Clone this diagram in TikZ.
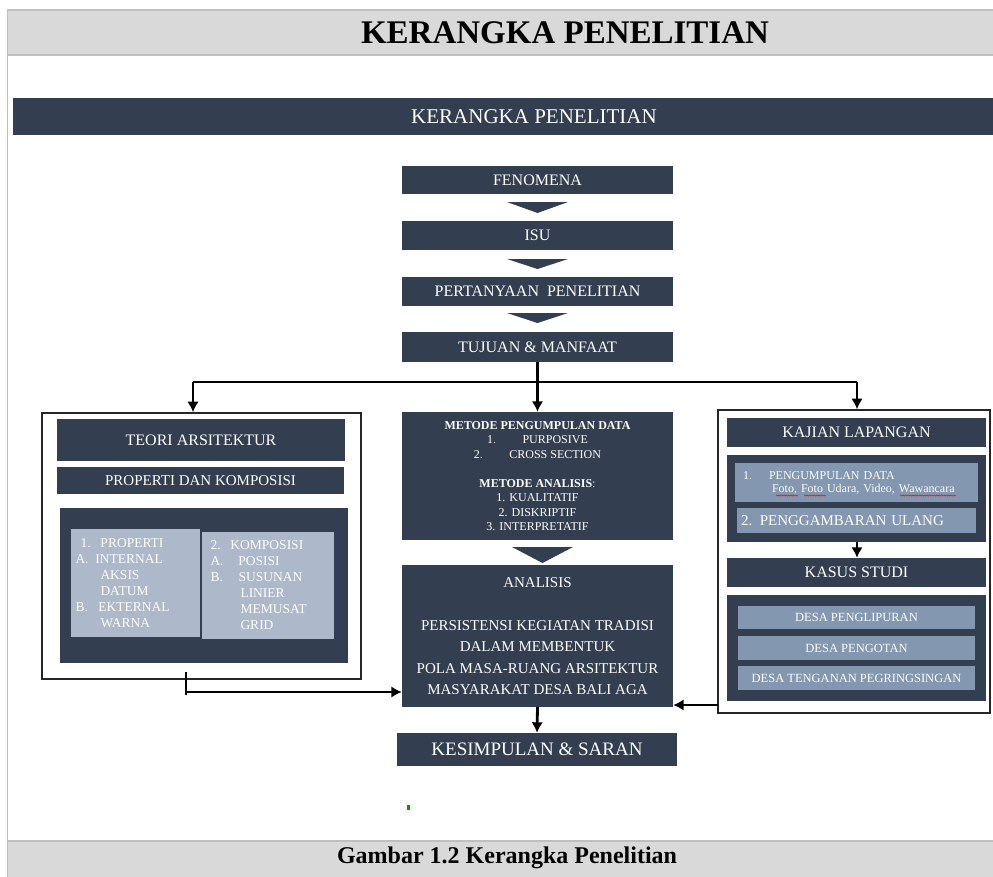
\documentclass[tikz,border=0pt]{standalone}
\usepackage{fontspec}
\setmainfont{Liberation Serif}
\usetikzlibrary{arrows.meta, decorations.pathmorphing}
\definecolor{navy}{HTML}{333F50}
\definecolor{pale}{HTML}{ADB9CA}
\definecolor{steel}{HTML}{8497B0}
\definecolor{bandgray}{HTML}{D9D9D9}
\definecolor{bandline}{HTML}{BFBFBF}
\def\fsz#1#2{\fontsize{#1}{#2}\selectfont}
\tikzset{dark/.style={fill=navy, text=white, inner sep=0pt, align=center},
  pbox/.style={fill=pale, text=white, inner sep=0pt, align=left},
  sbox/.style={fill=steel, text=white, inner sep=0pt},
  frame/.style={draw=black!85, line width=1.6pt, inner sep=0pt},
  band/.style={fill=bandgray, draw=bandline, line width=1.2pt, inner sep=0pt},
  wire/.style={line width=2.8pt},
  conn/.style={wire, -{Latex[length=10.5pt, width=11.5pt]}},
  typo/.style={red, line width=0.5pt, decorate, decoration={snake, amplitude=0.6pt, segment length=2.4pt}}}

\begin{document}
\begin{tikzpicture}[x=1pt, y=-1pt]
      \useasboundingbox (0,0) rectangle (993,876);
      % Bands
      \draw[bandline, line width=1.6pt] (7.5,55) -- (7.5,841);
      \node[band, minimum width=993, minimum height=45] (topband) at (504,32.5) {};
      \node[font=\fsz{33}{40}\bfseries] (title) at (565,33) {KERANGKA PENELITIAN};
      \node[band, minimum width=993, minimum height=39] (capband) at (504,860.5) {};
      \node[font=\fsz{24}{28}\bfseries] (caption) at (507,858) {Gambar 1.2 Kerangka Penelitian};
      \node[dark, minimum width=987, minimum height=37] (hdr) at (506.5,116.5) {};
      \node[text=white, font=\fsz{21}{25}] (hdrtext) at (534,116.5) {KERANGKA PENELITIAN};

      % Alur tengah
      \node[dark, minimum width=271, minimum height=28, font=\fsz{16}{19}] (fen) at (537.5,180) {FENOMENA};
      \node[dark, minimum width=271, minimum height=29, font=\fsz{16}{19}] (isu) at (537.5,235.5) {ISU};
      \node[dark, minimum width=271, minimum height=29, font=\fsz{16}{19}] (per) at (537.5,291.5) {PERTANYAAN\ \ PENELITIAN};
      \node[dark, minimum width=271, minimum height=30, font=\fsz{16}{19}] (tuj) at (537.5,347) {TUJUAN \& MANFAAT};
      \foreach \xa/\y/\h in {507/202/11, 507/259/10, 507/313/10, 512/547/16}
          \fill[navy] (\xa,\y) -- (\xa+61,\y) -- (\xa+30.5,\y+\h) -- cycle;
      \node[dark, minimum width=271, minimum height=128, font=\fsz{12}{14.5}] (met) at (537.5,476)
          {\textbf{METODE PENGUMPULAN DATA}\\ 1.\hspace{2.2em}PURPOSIVE\\ 2.\hspace{2.2em}CROSS SECTION\\[14.5pt]
           \textbf{METODE ANALISIS}:\\ 1. KUALITATIF\\ 2. DISKRIPTIF\\ 3. INTERPRETATIF};
      \node[dark, minimum width=271, minimum height=142, font=\fsz{15}{21.5}] (ana) at (537.5,636)
          {ANALISIS\\[21.5pt] PERSISTENSI KEGIATAN TRADISI\\ DALAM MEMBENTUK\\ POLA MASA-RUANG ARSITEKTUR\\ MASYARAKAT DESA BALI AGA};
      \node[dark, minimum width=280, minimum height=33, font=\fsz{19}{22}] (kes) at (537,749.5) {KESIMPULAN \& SARAN};
      \fill[green!60!black] (407,805) rectangle (409.5,809.5);

      % Teori
      \node[frame, minimum width=319, minimum height=266] (lbox) at (201.5,546) {};
      \node[dark, minimum width=288, minimum height=42, font=\fsz{16}{19}] (teo) at (201,440) {TEORI ARSITEKTUR};
      \node[dark, minimum width=287, minimum height=27, font=\fsz{15}{18}] (prk) at (200.5,480.5) {PROPERTI DAN KOMPOSISI};
      \node[dark, minimum width=288, minimum height=155] (lpan) at (204,585.5) {};
      \node[pbox, text width=119, inner xsep=5, minimum height=108, font=\fsz{13.5}{16}] (prop) at (135,583)
          {\hspace*{5pt}\makebox[20pt][l]{1.}PROPERTI\\ \makebox[20pt][l]{A.}INTERNAL\\ \hspace*{25pt}AKSIS\\
           \hspace*{25pt}DATUM\\ \makebox[23pt][l]{B.}EKTERNAL\\ \hspace*{25pt}WARNA};
      \node[pbox, text width=114, inner xsep=9, minimum height=107, font=\fsz{13.5}{16}] (komp) at (267.5,585.5)
          {\makebox[20pt][l]{2.}KOMPOSISI\\ \makebox[28pt][l]{A.}POSISI\\ \makebox[28pt][l]{B.}SUSUNAN\\
           \hspace*{30pt}LINIER\\ \hspace*{30pt}MEMUSAT\\ \hspace*{30pt}GRID};

      % Lapangan
      \node[frame, minimum width=272, minimum height=303] (rbox) at (854,561.5) {};
      \node[dark, minimum width=259, minimum height=29, font=\fsz{16}{19}] (kaj) at (856.5,432.5) {KAJIAN LAPANGAN};
      \node[dark, minimum width=259, minimum height=87] (rpan1) at (856.5,498.5) {};
      \node[sbox, text width=227, inner xsep=8, minimum height=39, align=left, font=\fsz{12}{13}] (kump) at (856.5,482.5)
          {\makebox[26pt][l]{1.}PENGUMPULAN DATA\\ {\fsz{12}{13}\hspace*{29pt}Foto, Foto Udara, Video, Wawancara}};
      \node[sbox, text width=231, inner xsep=4, minimum height=25, align=left, font=\fsz{15}{18}] (gamb) at (856.5,520.5)
          {2. PENGGAMBARAN ULANG};
      \node[dark, minimum width=259, minimum height=29, font=\fsz{16}{19}] (kas) at (856.5,572.5) {KASUS STUDI};
      \node[dark, minimum width=259, minimum height=106] (rpan2) at (856.5,648) {};
      \node[sbox, minimum width=237, minimum height=23, font=\fsz{12.5}{15}] (ds1) at (856.5,617.5) {DESA PENGLIPURAN};
      \node[sbox, minimum width=237, minimum height=24, font=\fsz{12.5}{15}] (ds2) at (856.5,648) {DESA PENGOTAN};
      \node[sbox, minimum width=237, minimum height=24, font=\fsz{12.5}{15}] (ds3) at (856.5,678) {DESA TENGANAN PEGRINGSINGAN};
      \foreach \xa/\xb in {776/798, 804/826, 900/956}
          \draw[typo] (\xa,495.5) -- (\xb,495.5);

      % Panah
      \coordinate (jl) at (193,382);
      \coordinate (jr) at (857,382);
      \coordinate (lt) at (186,672);
      \coordinate (lb) at (186,692);
      \coordinate (rj) at (718,705);
      \draw[conn] (tuj.south) -- (met.north);
      \draw[wire] (jl) -- (jr);
      \draw[conn] (jl) -- (jl |- lbox.north);
      \draw[conn] (jr) -- (jr |- rbox.north);
      \draw[conn] (rpan1.south -| jr) -- (kas.north -| jr);
      \draw[wire] (lt) -- ++(0,23);
      \draw[conn] (lb) -- (lb -| ana.west);
      \draw[conn] (rj) -- (rj -| ana.east);
      \draw[conn] (ana.south) -- (kes.north);
\end{tikzpicture}
\end{document}
